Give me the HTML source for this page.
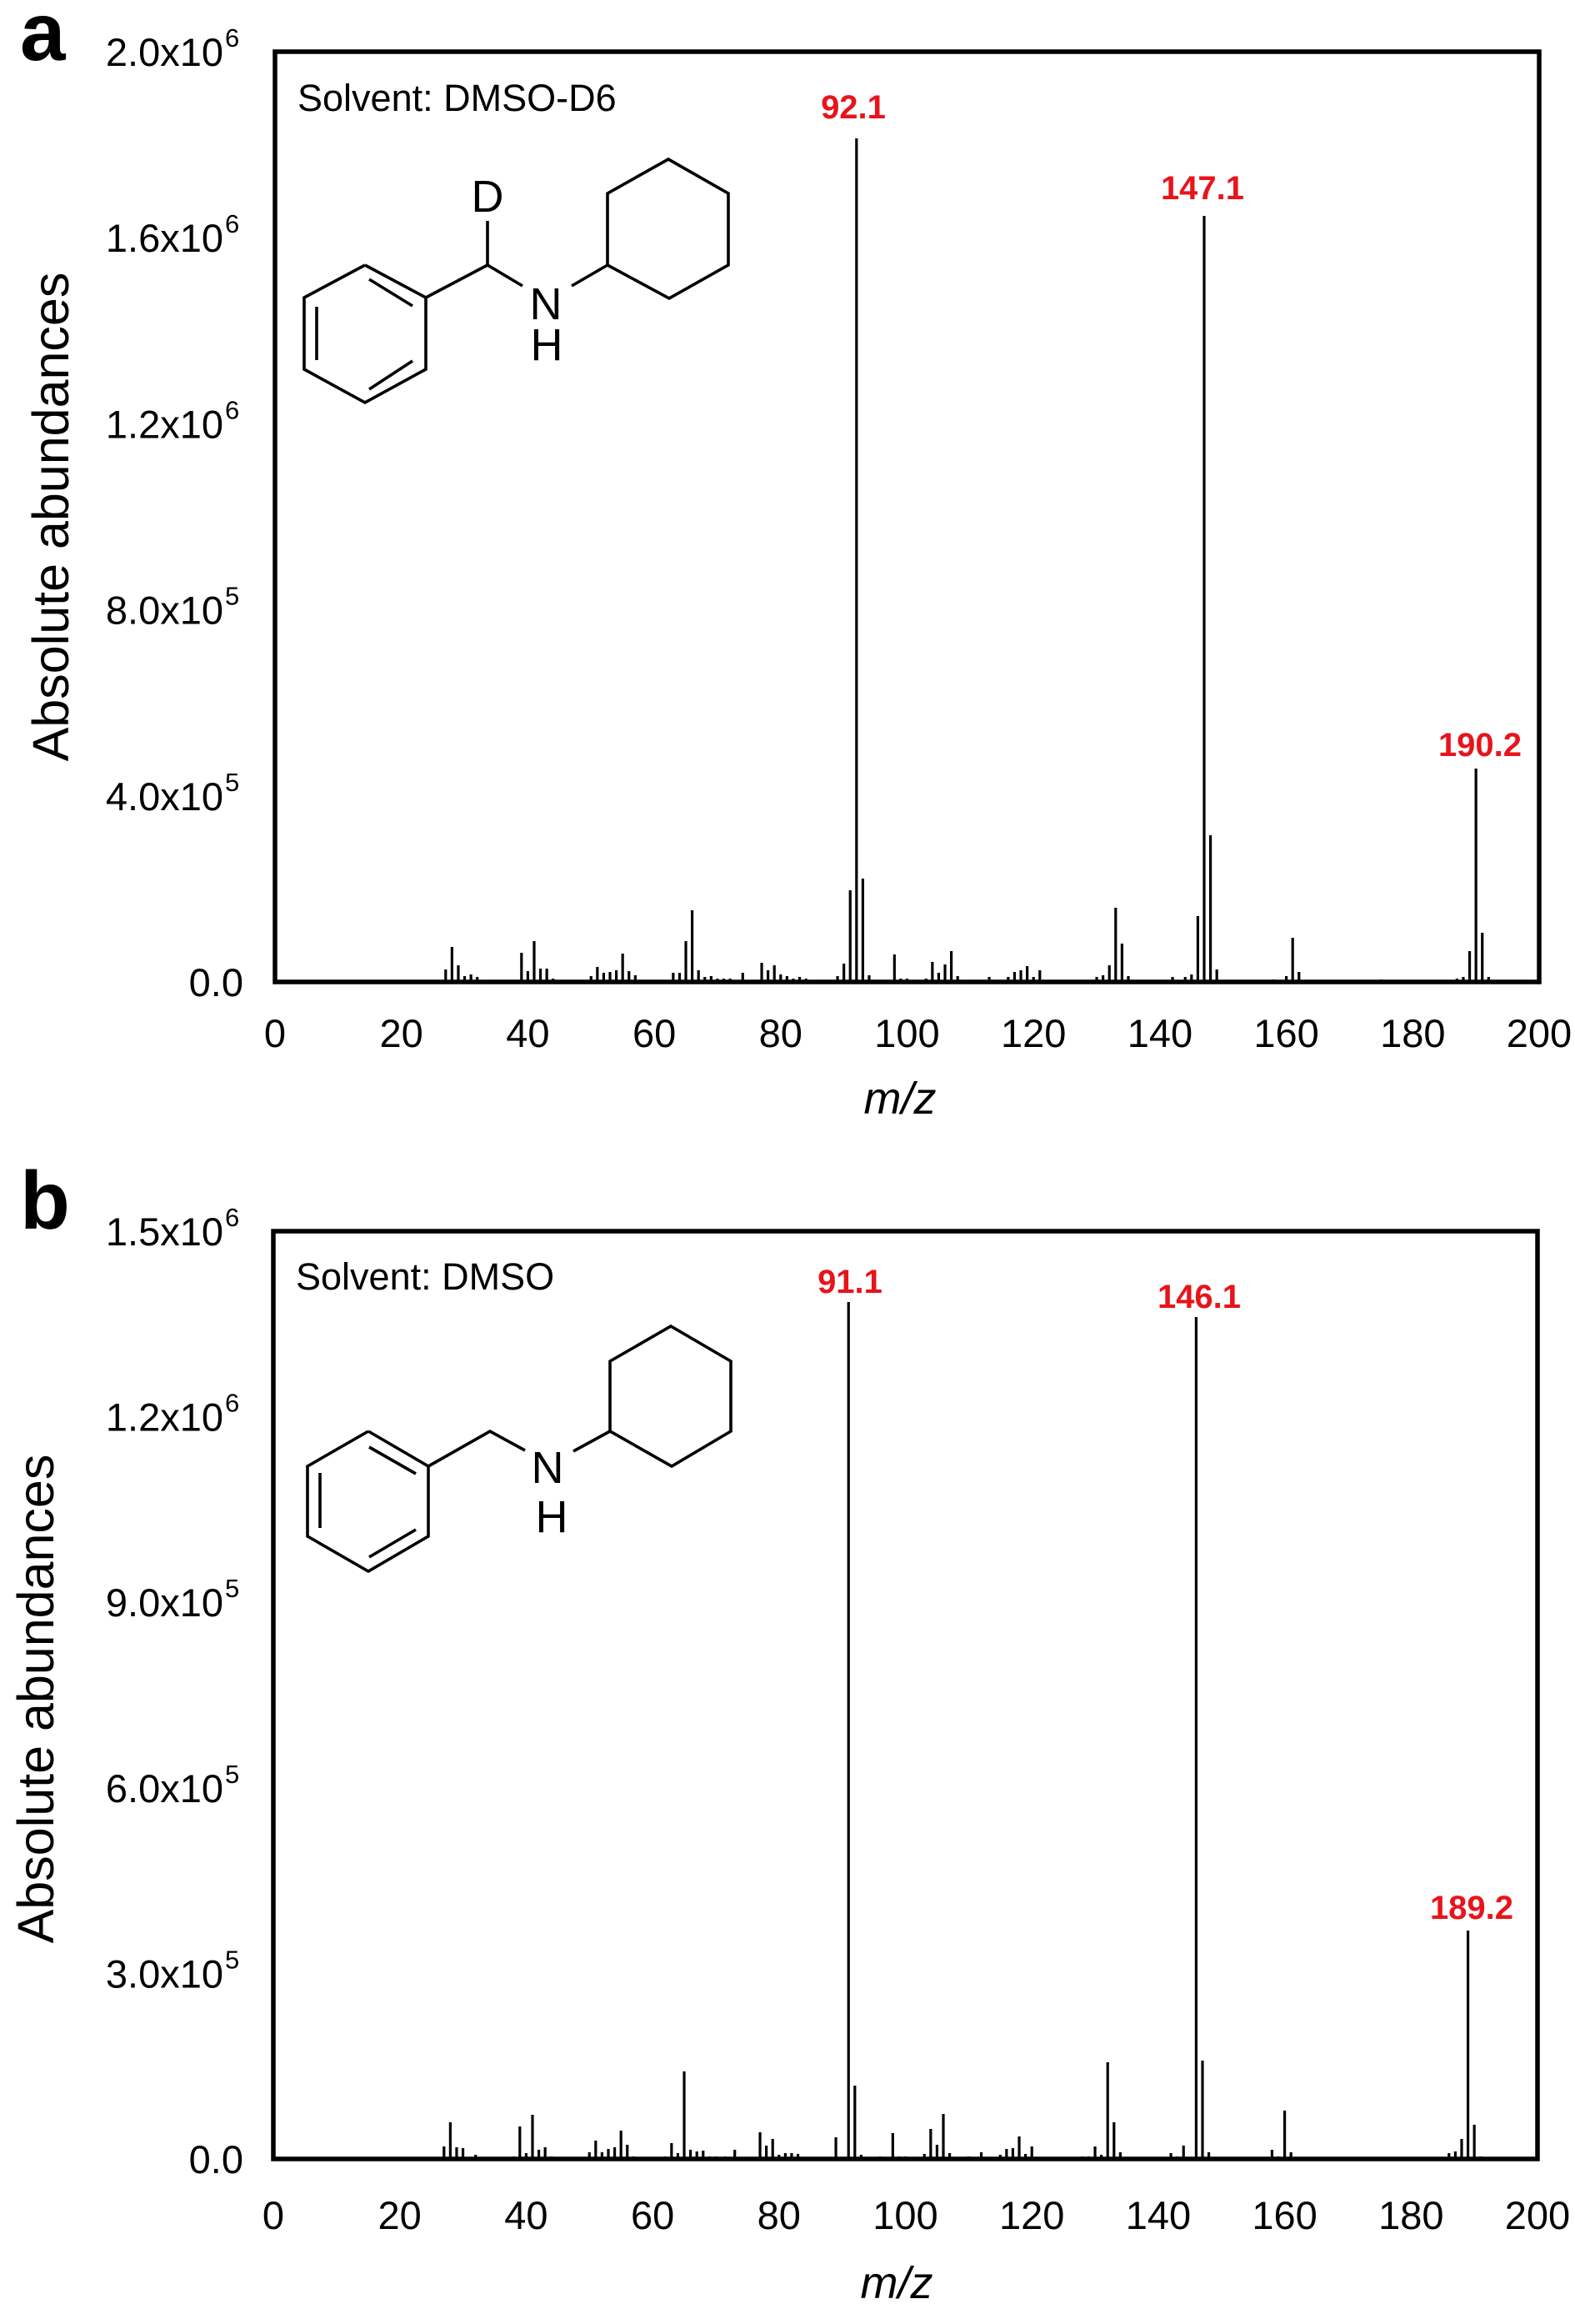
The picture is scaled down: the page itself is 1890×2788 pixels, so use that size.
<!DOCTYPE html>
<html><head><meta charset="utf-8"><style>
html,body{margin:0;padding:0;background:#fff;}
svg{display:block;font-family:"Liberation Sans",Arial,sans-serif;}
</style></head><body>
<svg id="s" width="1890" height="2788" viewBox="0 0 1890 2788" xmlns="http://www.w3.org/2000/svg">
<rect width="1890" height="2788" fill="#fff"/>
<text x="24" y="72" font-size="98" font-weight="bold">a</text>
<text x="24" y="1474" font-size="98" font-weight="bold">b</text>
<text transform="translate(82,620) rotate(-90)" font-size="61" text-anchor="middle">Absolute abundances</text>
<text transform="translate(64,2038) rotate(-90)" font-size="61" text-anchor="middle">Absolute abundances</text>
<text x="1080" y="1336" font-size="54" font-style="italic" text-anchor="middle">m/z</text>
<text x="1076" y="2757" font-size="54" font-style="italic" text-anchor="middle">m/z</text>
<g id="ticks" font-size="47"></g>
<text x="357" y="133" font-size="45">Solvent: DMSO-D6</text>
<text x="355" y="1547" font-size="45">Solvent: DMSO</text>
<g font-size="40" font-weight="bold" fill="#e8141b" text-anchor="middle">
<text x="1024" y="142">92.1</text>
<text x="1443" y="239">147.1</text>
<text x="1776" y="907">190.2</text>
<text x="1020" y="1551">91.1</text>
<text x="1439" y="1569">146.1</text>
<text x="1766" y="2302">189.2</text>
</g>
<g id="peaks" stroke="#000" fill="none"></g>
<rect x="330" y="62" width="1517" height="1116" fill="none" stroke="#000" stroke-width="5.5"/>
<rect x="328" y="1477" width="1517" height="1113" fill="none" stroke="#000" stroke-width="5.5"/>
<g stroke="#000" stroke-width="3.6" fill="none">
<polyline points="438,318 511,357 511,443 438,483 365,443 365,357 438,318"/>
<line x1="443" y1="335" x2="495" y2="367"/>
<line x1="380" y1="368" x2="380" y2="432"/>
<line x1="443" y1="467" x2="495" y2="433"/>
<polyline points="511,357 585,318 627,343"/>
<line x1="585" y1="318" x2="585" y2="265"/>
<line x1="686" y1="343" x2="729" y2="318"/>
<polygon points="729,318 729,232 802,191 874,232 874,318 803,358"/>
</g>
<g font-size="54" text-anchor="middle">
<text x="585" y="254">D</text>
<text x="655" y="383">N</text>
<text x="656" y="432">H</text>
</g>
<g stroke="#000" stroke-width="3.6" fill="none">
<polyline points="442,1717 514,1759 514,1843 442,1885 369,1843 369,1759 442,1717"/>
<line x1="443" y1="1736" x2="499" y2="1768"/>
<line x1="384" y1="1767" x2="384" y2="1833"/>
<line x1="443" y1="1868" x2="499" y2="1835"/>
<polyline points="514,1759 588,1717 630,1740"/>
<line x1="688" y1="1741" x2="732" y2="1717"/>
<polygon points="732,1717 732,1633 805,1591 877,1633 877,1717 806,1759"/>
</g>
<g font-size="54" text-anchor="middle">
<text x="657" y="1779">N</text>
<text x="662" y="1838">H</text>
</g>
</svg>
<script>
var NS="http://www.w3.org/2000/svg";
var pk=document.getElementById("peaks"),tk=document.getElementById("ticks");
function line(x,y0,h,w){var l=document.createElementNS(NS,"line");l.setAttribute("x1",x);l.setAttribute("x2",x);l.setAttribute("y1",y0);l.setAttribute("y2",y0-h);l.setAttribute("stroke-width",w);pk.appendChild(l);}
function txt(x,y,s,anchor,sz){var t=document.createElementNS(NS,"text");t.setAttribute("x",x);t.setAttribute("y",y);t.setAttribute("text-anchor",anchor);if(sz)t.setAttribute("font-size",sz);t.textContent=s;tk.appendChild(t);return t;}
var A=[[27,15],[28,42],[29,20],[30,7],[31,9],[32,6],[39,35],[40,13],[41,49],[42,16],[43,16],[44,4],[50,7],[51,18],[52,11],[53,12],[54,14],[55,34],[56,13],[57,8],[63,11],[64,11],[65,49],[66,86],[67,14],[68,6],[69,7],[70,4],[71,4],[72,4],[74,11],[77,23],[78,14],[79,20],[80,9],[81,7],[82,4],[83,6],[84,4],[89,7],[90,22],[91,110],[92,1012],[93,124],[94,8],[98,33],[99,4],[100,4],[103,4],[104,24],[105,11],[106,21],[107,37],[108,7],[113,6],[116,6],[117,12],[118,14],[119,19],[120,6],[121,14],[130,6],[131,8],[132,20],[133,89],[134,46],[135,7],[142,6],[144,6],[145,9],[146,79],[147,919],[148,176],[149,15],[158,3],[160,7],[161,53],[162,12],[175,3],[187,4],[188,6],[189,37],[190,256],[191,59],[192,6]];
var B=[[27,15],[28,44],[29,14],[30,13],[32,5],[38,3],[39,39],[40,7],[41,53],[42,11],[43,14],[44,3],[50,8],[51,22],[52,8],[53,12],[54,14],[55,34],[56,17],[57,3],[62,3],[63,19],[64,7],[65,105],[66,11],[67,9],[68,10],[69,3],[70,3],[71.5,3],[73,11],[77,32],[78,16],[79,24],[80,5],[81,7],[82,7],[83,6],[89,26],[91,1028],[92,88],[93,5],[96,3],[98,31],[99,3],[100,3],[103,6],[104,36],[105,17],[106,54],[107,7],[110,3],[112,8],[115,5],[116,12],[117,13],[118,27],[119,6],[120,15],[121,2],[128,3],[129,3],[130,15],[131,5],[132,116],[133,44],[134,8],[142,7],[143,3],[144,16],[146,1010],[147,118],[148,8],[158,11],[159,3],[160,58],[161,8],[172,2],[174,2],[186,7],[187,9],[188,24],[189,274],[190,41],[191,3]];
A.forEach(function(p){line(330+p[0]*7.585,1178,p[1],3.2);});
B.forEach(function(p){line(328+p[0]*7.585,2590,p[1],3.2);});
for(var i=0;i<=10;i++){var v=i*20;txt(330+v*7.585,1256,""+v,"middle");txt(328+v*7.585,2674,""+v,"middle");}
var la=["0.0","4.0x10","8.0x10","1.2x10","1.6x10","2.0x10"],ea=["","5","5","6","6","6"];
for(var i=0;i<6;i++){var y=1178-i*223.2;if(i==0){txt(292,y+17,"0.0","end");}else{txt(268,y+17,la[i],"end");txt(270,y-6,ea[i],"start",31);}}
var lb=["0.0","3.0x10","6.0x10","9.0x10","1.2x10","1.5x10"],eb=["","5","5","5","6","6"];
for(var i=0;i<6;i++){var y=2590-i*222.6;if(i==0){txt(292,y+17,"0.0","end");}else{txt(268,y+17,lb[i],"end");txt(270,y-6,eb[i],"start",31);}}
</script>
</body></html>
